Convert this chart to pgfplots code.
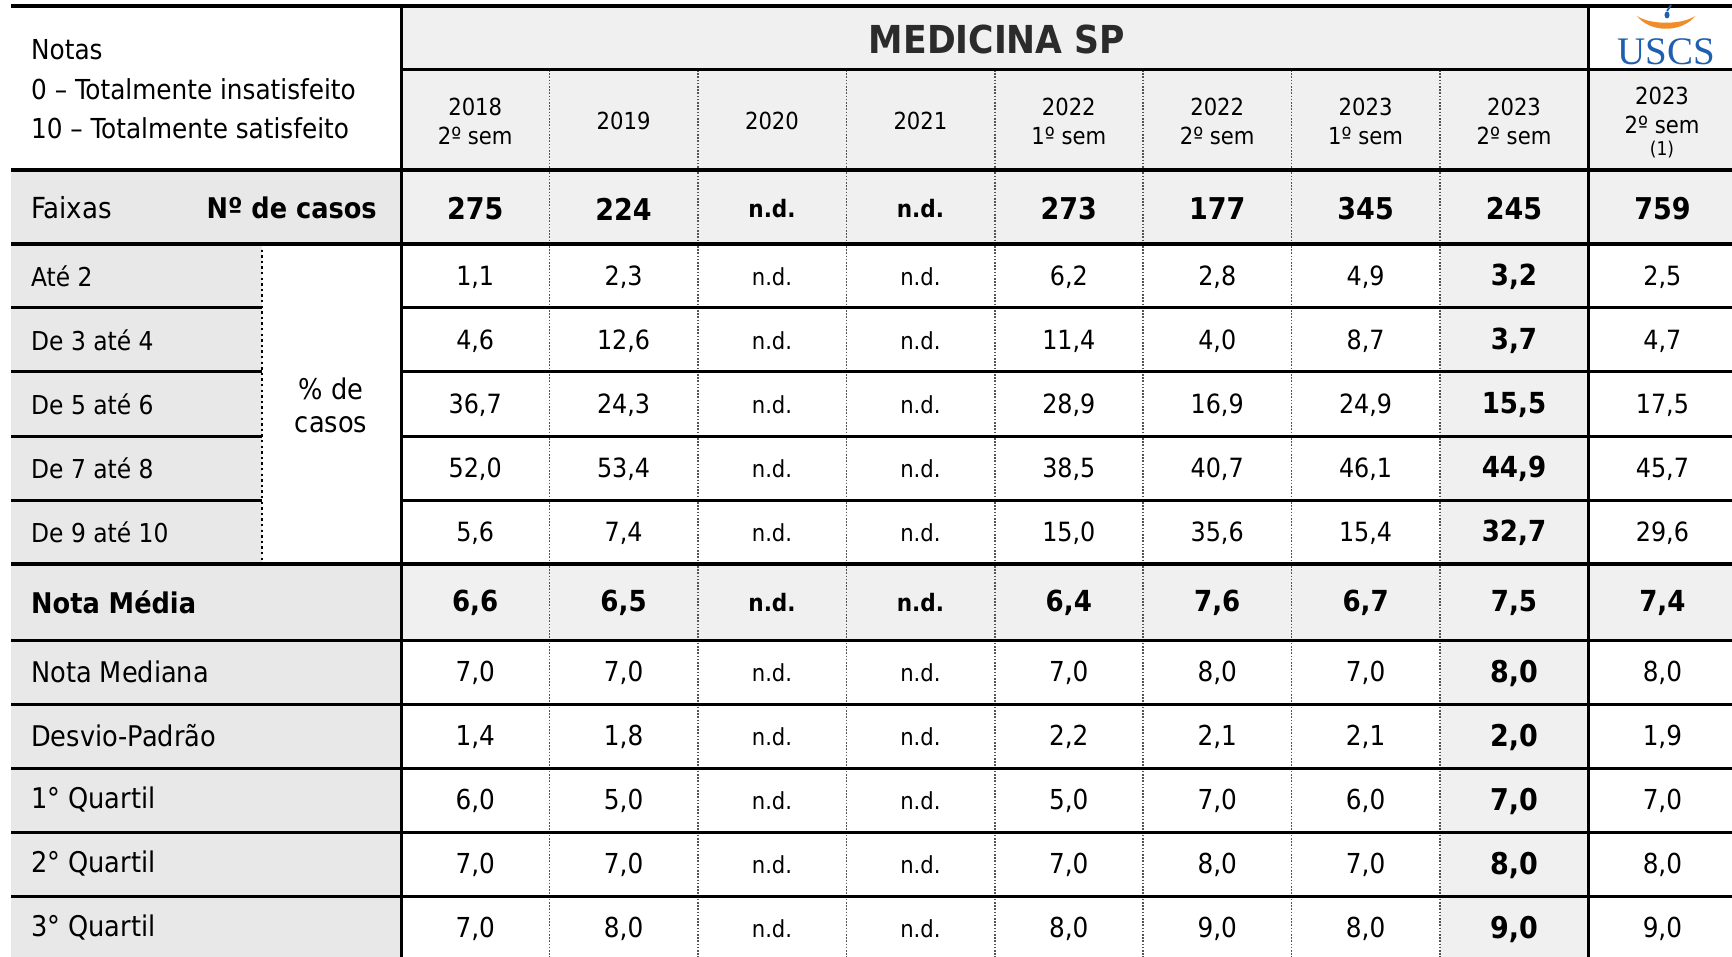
\documentclass[border=0pt]{standalone}
\usepackage{pgfplots}
\pgfplotsset{compat=1.18}
\usepackage{pgfplotstable}
\usepackage{fontspec}
\setmainfont{DejaVu Sans Condensed}
\newfontfamily\logofont{Liberation Serif}

\definecolor{hdr}{HTML}{F0F0F0}
\definecolor{lab}{HTML}{E8E8E8}
\definecolor{dotc}{HTML}{555555}
\definecolor{titc}{HTML}{2B2B2B}
\definecolor{uscsblue}{HTML}{1F5FB0}
\definecolor{uscsorange}{HTML}{F28C28}

% Nº de casos
\pgfplotstableread{
c  n
0  275
1  224
4  273
5  177
6  345
7  245
8  759
}\casos

% % de casos (columns other than 2023 2º sem)
\pgfplotstableread{
c  r1   r2    r3    r4    r5
0  1.1  4.6   36.7  52.0  5.6
1  2.3  12.6  24.3  53.4  7.4
4  6.2  11.4  28.9  38.5  15.0
5  2.8  4.0   16.9  40.7  35.6
6  4.9  8.7   24.9  46.1  15.4
8  2.5  4.7   17.5  45.7  29.6
}\pct
\pgfplotstableread{
c  r1   r2    r3    r4    r5
7  3.2  3.7   15.5  44.9  32.7
}\pcthl

% Nota média
\pgfplotstableread{
c  m
0  6.6
1  6.5
4  6.4
5  7.6
6  6.7
7  7.5
8  7.4
}\media

% Mediana, desvio, quartis
\pgfplotstableread{
c  med  dp   qa   qb   qc
0  7.0  1.4  6.0  7.0  7.0
1  7.0  1.8  5.0  7.0  8.0
4  7.0  2.2  5.0  7.0  8.0
5  8.0  2.1  7.0  8.0  9.0
6  7.0  2.1  6.0  7.0  8.0
8  8.0  1.9  7.0  8.0  9.0
}\stats
\pgfplotstableread{
c  med  dp   qa   qb   qc
7  8.0  2.0  7.0  8.0  9.0
}\statshl

% n.d. cells
\pgfplotstableread{
c  lab
2  n.d.
3  n.d.
}\nd

\pgfplotsset{
  cellval/.style={only marks, mark=none, point meta=explicit,
    nodes near coords, nodes near coords align=center,
    every node near coord/.append style={inner sep=0pt, text=black, font=#1},
    /pgf/number format/fixed, /pgf/number format/fixed zerofill,
    /pgf/number format/precision=1, /pgf/number format/use comma,
    /pgf/number format/assume math mode=true},
  celltxt/.style={only marks, mark=none, point meta=explicit symbolic,
    nodes near coords, nodes near coords align=center,
    every node near coord/.append style={inner sep=0pt, text=black, font=#1}},
}
\newcommand\colx{475.2+148.4*\thisrow{c}}

\begin{document}
\begin{tikzpicture}
\begin{axis}[
  width=1732pt, height=957pt, scale only axis,
  xmin=0, xmax=1732, ymin=0, ymax=957, y dir=reverse,
  hide axis, clip=false,
]
% ---------- backgrounds
\fill[hdr] (401,6) rectangle (1588,70);
\fill[hdr] (401,70) rectangle (1732,170);
\fill[lab] (11,170) rectangle (401,244);
\fill[hdr] (401,170) rectangle (1732,244);
\fill[lab] (11,244) rectangle (262,564);
\fill[hdr] (1440,244) rectangle (1588,957);
\fill[lab] (11,564) rectangle (401,640);
\fill[hdr] (401,564) rectangle (1732,640);
\fill[lab] (11,640) rectangle (401,957);

% ---------- dotted column separators
\pgfplotsinvokeforeach{549.6,698,846.4,994.8,1143.2,1291.6,1440}{
  \draw[dotc, line width=1.6pt, dash pattern=on 1.6pt off 1.6pt] (#1,70) -- (#1,957);
}
\draw[black, line width=2.4pt, dash pattern=on 2.4pt off 3.2pt] (262,244) -- (262,564);

% ---------- solid rules
\draw[line width=4pt] (11,6) -- (1732,6);
\draw[line width=3pt] (401,70) -- (1732,70);
\draw[line width=4pt] (11,170) -- (1732,170);
\draw[line width=4pt] (11,244) -- (1732,244);
\pgfplotsinvokeforeach{308,372,436,500}{
  \draw[line width=3pt] (11,#1) -- (262,#1);
  \draw[line width=3pt] (401,#1) -- (1732,#1);
}
\draw[line width=4pt] (11,564) -- (1732,564);
\pgfplotsinvokeforeach{640,704,768,832,896}{
  \draw[line width=3pt] (11,#1) -- (1732,#1);
}
\draw[line width=3pt] (401,6) -- (401,957);
\draw[line width=3pt] (1588,6) -- (1588,957);

% ---------- header texts
\node[anchor=west, inner sep=0pt, font=\fontsize{27.5}{30}\selectfont] at (31,50) {Notas};
\node[anchor=west, inner sep=0pt, font=\fontsize{27.5}{30}\selectfont] at (31,89) {0 – Totalmente insatisfeito};
\node[anchor=west, inner sep=0pt, font=\fontsize{27.5}{30}\selectfont] at (31,128) {10 – Totalmente satisfeito};
\node[inner sep=0pt, text=titc, font=\fontsize{38.5}{44}\selectfont\bfseries] at (997,39) {MEDICINA SP};

\node[align=center, inner sep=0pt, font=\fontsize{23.5}{29}\selectfont] at (475.2,121) {2018\\2º sem};
\node[inner sep=0pt, font=\fontsize{23.5}{29}\selectfont] at (623.6,121) {2019};
\node[inner sep=0pt, font=\fontsize{23.5}{29}\selectfont] at (772,121) {2020};
\node[inner sep=0pt, font=\fontsize{23.5}{29}\selectfont] at (920.4,121) {2021};
\node[align=center, inner sep=0pt, font=\fontsize{23.5}{29}\selectfont] at (1068.8,121) {2022\\1º sem};
\node[align=center, inner sep=0pt, font=\fontsize{23.5}{29}\selectfont] at (1217.2,121) {2022\\2º sem};
\node[align=center, inner sep=0pt, font=\fontsize{23.5}{29}\selectfont] at (1365.6,121) {2023\\1º sem};
\node[align=center, inner sep=0pt, font=\fontsize{23.5}{29}\selectfont] at (1514,121) {2023\\2º sem};
\node[align=center, inner sep=0pt, font=\fontsize{23.5}{29}\selectfont] at (1662,110) {2023\\2º sem};
\node[inner sep=0pt, font=\fontsize{19}{22}\selectfont] at (1662,150) {(1)};

% USCS logo
\fill[uscsorange] (1637,16) .. controls (1650,33) and (1682,33) .. (1695,16)
   .. controls (1682,25) and (1650,25) .. cycle;
\fill[uscsblue] (1667,15) ellipse [x radius=2.5pt, y radius=3.5pt];
\draw[uscsblue, line width=1.8pt] (1667,11) -- (1671,5);
\node[inner sep=0pt, text=uscsblue, font=\logofont\fontsize{39}{40}\selectfont] at (1666,52) {USCS};

% ---------- left labels
\node[anchor=west, inner sep=0pt, font=\fontsize{29}{32}\selectfont] at (31,208) {Faixas};
\node[anchor=east, inner sep=0pt, font=\fontsize{28.5}{32}\selectfont\bfseries] at (377,208) {Nº de casos};
\node[anchor=west, inner sep=0pt, font=\fontsize{26}{28}\selectfont] at (31,276) {Até 2};
\node[anchor=west, inner sep=0pt, font=\fontsize{26}{28}\selectfont] at (31,340) {De 3 até 4};
\node[anchor=west, inner sep=0pt, font=\fontsize{26}{28}\selectfont] at (31,404) {De 5 até 6};
\node[anchor=west, inner sep=0pt, font=\fontsize{26}{28}\selectfont] at (31,468) {De 7 até 8};
\node[anchor=west, inner sep=0pt, font=\fontsize{26}{28}\selectfont] at (31,532) {De 9 até 10};
\node[align=center, inner sep=0pt, font=\fontsize{28.5}{33}\selectfont] at (331,405) {\% de\\casos};
\node[anchor=west, inner sep=0pt, font=\fontsize{28.5}{30}\selectfont\bfseries] at (31,602) {Nota Média};
\node[anchor=west, inner sep=0pt, font=\fontsize{28.5}{30}\selectfont] at (31,672) {Nota Mediana};
\node[anchor=west, inner sep=0pt, font=\fontsize{28.5}{30}\selectfont] at (31,736) {Desvio-Padrão};
\node[anchor=west, inner sep=0pt, font=\fontsize{28.5}{30}\selectfont] at (31,800) {1° Quartil};
\node[anchor=west, inner sep=0pt, font=\fontsize{28.5}{30}\selectfont] at (31,864) {2° Quartil};
\node[anchor=west, inner sep=0pt, font=\fontsize{28.5}{30}\selectfont] at (31,928) {3° Quartil};

% ---------- data: Nº de casos
\addplot[cellval={\fontsize{30}{32}\selectfont\bfseries}, /pgf/number format/precision=0, /pgf/number format/fixed zerofill=false]
  table[x expr=\colx, y expr=209, meta=n] {\casos};
% ---------- data: % de casos
\addplot[cellval={\fontsize{26.5}{30}\selectfont}] table[x expr=\colx, y expr=277, meta=r1] {\pct};
\addplot[cellval={\fontsize{26.5}{30}\selectfont}] table[x expr=\colx, y expr=341, meta=r2] {\pct};
\addplot[cellval={\fontsize{26.5}{30}\selectfont}] table[x expr=\colx, y expr=405, meta=r3] {\pct};
\addplot[cellval={\fontsize{26.5}{30}\selectfont}] table[x expr=\colx, y expr=469, meta=r4] {\pct};
\addplot[cellval={\fontsize{26.5}{30}\selectfont}] table[x expr=\colx, y expr=533, meta=r5] {\pct};
\addplot[cellval={\fontsize{29}{30}\selectfont\bfseries}] table[x expr=\colx, y expr=277, meta=r1] {\pcthl};
\addplot[cellval={\fontsize{29}{30}\selectfont\bfseries}] table[x expr=\colx, y expr=341, meta=r2] {\pcthl};
\addplot[cellval={\fontsize{29}{30}\selectfont\bfseries}] table[x expr=\colx, y expr=405, meta=r3] {\pcthl};
\addplot[cellval={\fontsize{29}{30}\selectfont\bfseries}] table[x expr=\colx, y expr=469, meta=r4] {\pcthl};
\addplot[cellval={\fontsize{29}{30}\selectfont\bfseries}] table[x expr=\colx, y expr=533, meta=r5] {\pcthl};
% ---------- data: Nota Média
\addplot[cellval={\fontsize{29}{30}\selectfont\bfseries}] table[x expr=\colx, y expr=603, meta=m] {\media};
% ---------- data: stats
\addplot[cellval={\fontsize{27.5}{30}\selectfont}] table[x expr=\colx, y expr=673, meta=med] {\stats};
\addplot[cellval={\fontsize{27.5}{30}\selectfont}] table[x expr=\colx, y expr=737, meta=dp] {\stats};
\addplot[cellval={\fontsize{27.5}{30}\selectfont}] table[x expr=\colx, y expr=801, meta=qa] {\stats};
\addplot[cellval={\fontsize{27.5}{30}\selectfont}] table[x expr=\colx, y expr=865, meta=qb] {\stats};
\addplot[cellval={\fontsize{27.5}{30}\selectfont}] table[x expr=\colx, y expr=929, meta=qc] {\stats};
\addplot[cellval={\fontsize{30}{30}\selectfont\bfseries}] table[x expr=\colx, y expr=673, meta=med] {\statshl};
\addplot[cellval={\fontsize{30}{30}\selectfont\bfseries}] table[x expr=\colx, y expr=737, meta=dp] {\statshl};
\addplot[cellval={\fontsize{30}{30}\selectfont\bfseries}] table[x expr=\colx, y expr=801, meta=qa] {\statshl};
\addplot[cellval={\fontsize{30}{30}\selectfont\bfseries}] table[x expr=\colx, y expr=865, meta=qb] {\statshl};
\addplot[cellval={\fontsize{30}{30}\selectfont\bfseries}] table[x expr=\colx, y expr=929, meta=qc] {\statshl};
% ---------- n.d. cells
\addplot[celltxt={\fontsize{24}{26}\selectfont\bfseries}] table[x expr=\colx, y expr=209, meta=lab] {\nd};
\pgfplotsinvokeforeach{277,341,405,469,533,673,737,801,865,929}{
  \addplot[celltxt={\fontsize{23.5}{26}\selectfont}] table[x expr=\colx, y expr=#1, meta=lab] {\nd};
}
\addplot[celltxt={\fontsize{24}{26}\selectfont\bfseries}] table[x expr=\colx, y expr=603, meta=lab] {\nd};
\end{axis}
\pgfresetboundingbox
\path[use as bounding box] (current axis.south west) rectangle (current axis.north east);
\end{tikzpicture}
\end{document}
